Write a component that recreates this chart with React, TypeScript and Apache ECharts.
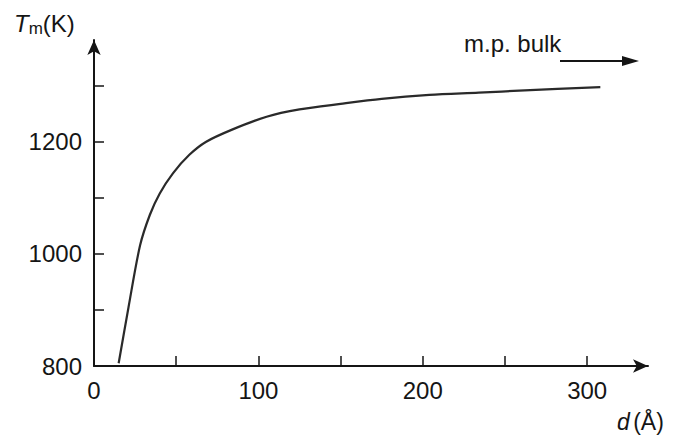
import React, { useEffect, useRef } from "react";
import * as echarts from "echarts";

const dValues = [15, 21, 28, 34, 40, 48, 58, 68, 84, 105, 125, 150, 175, 204, 234, 262, 308];
const tmValues = [805, 905, 1015, 1070, 1108, 1144, 1177, 1200, 1222, 1245, 1258, 1268, 1277, 1284, 1288, 1292, 1298];
const xTickValues = [50, 100, 150, 200, 250, 300];
const xLabelValues = [0, 100, 200, 300];
const yTickValues = [900, 1000, 1100, 1200, 1300];
const yLabelValues = [800, 1000, 1200];

const FONT = "Liberation Sans, Arial, sans-serif";
const INK = "#151515";

export default function App() {
  const ref = useRef<HTMLDivElement>(null);
  useEffect(() => {
    if (!ref.current) return;
    const chart = echarts.init(ref.current, undefined, { renderer: "svg" });
    chart.setOption({
      animation: false,
      backgroundColor: "#ffffff",
      grid: { left: 94, right: 29, top: 40, bottom: 75 },
      xAxis: {
        type: "value",
        min: 0,
        max: 337,
        splitLine: { show: false },
        axisLine: {
          show: true,
          onZero: false,
          symbol: ["none", "arrow"],
          symbolSize: [10, 15],
          lineStyle: { color: INK, width: 2 },
        },
        axisTick: {
          show: true,
          inside: true,
          length: 10,
          customValues: xTickValues,
          lineStyle: { color: INK, width: 1.5 },
        },
        axisLabel: {
          customValues: xLabelValues,
          formatter: (v: number) => String(v),
          color: INK,
          fontFamily: FONT,
          fontSize: 24,
          margin: 12,
        },
      },
      yAxis: {
        type: "value",
        min: 800,
        max: 1382,
        splitLine: { show: false },
        axisLine: {
          show: true,
          onZero: false,
          symbol: ["none", "arrow"],
          symbolSize: [10, 15],
          lineStyle: { color: INK, width: 2 },
        },
        axisTick: {
          show: true,
          inside: true,
          length: 10,
          customValues: yTickValues,
          lineStyle: { color: INK, width: 1.5 },
        },
        axisLabel: {
          customValues: yLabelValues,
          formatter: (v: number) => String(v),
          color: INK,
          fontFamily: FONT,
          fontSize: 24,
          margin: 12,
        },
      },
      series: [
        {
          type: "line",
          data: dValues.map((d, i) => [d, tmValues[i]]),
          smooth: 0.3,
          showSymbol: false,
          symbol: "none",
          clip: false,
          lineStyle: { color: "#2a2a2a", width: 2.2 },
        },
      ],
      graphic: [
        {
          type: "text",
          left: 14,
          top: 11,
          style: {
            text: "{i|T}{s|m}{n|(K)}",
            fill: INK,
            fontFamily: FONT,
            rich: {
              i: { fontSize: 24, fontStyle: "italic", fontFamily: FONT, fill: INK },
              s: { fontSize: 17, fontFamily: FONT, fill: INK, verticalAlign: "bottom", padding: [10, 0, 0, 0] },
              n: { fontSize: 24, fontFamily: FONT, fill: INK },
            },
          },
        },
        {
          type: "text",
          left: 617,
          top: 410,
          style: {
            text: "{i|d} {n|(Å)}",
            fill: INK,
            rich: {
              i: { fontSize: 23, fontStyle: "italic", fontFamily: FONT, fill: INK },
              n: { fontSize: 23, fontFamily: FONT, fill: INK },
            },
          },
        },
        {
          type: "text",
          left: 464,
          top: 31,
          style: {
            text: "m.p. bulk",
            fill: INK,
            fontSize: 24,
            fontFamily: FONT,
          },
        },
        {
          type: "line",
          shape: { x1: 560, y1: 61, x2: 626, y2: 61 },
          style: { stroke: INK, lineWidth: 2 },
        },
        {
          type: "polygon",
          shape: { points: [[622, 56], [639, 61], [622, 66]] },
          style: { fill: INK },
        },
      ],
    });
    return () => chart.dispose();
  }, []);
  return (
    <div
      ref={ref}
      style={{ position: "fixed", left: 0, top: 0, width: 677, height: 441 }}
    />
  );
}
